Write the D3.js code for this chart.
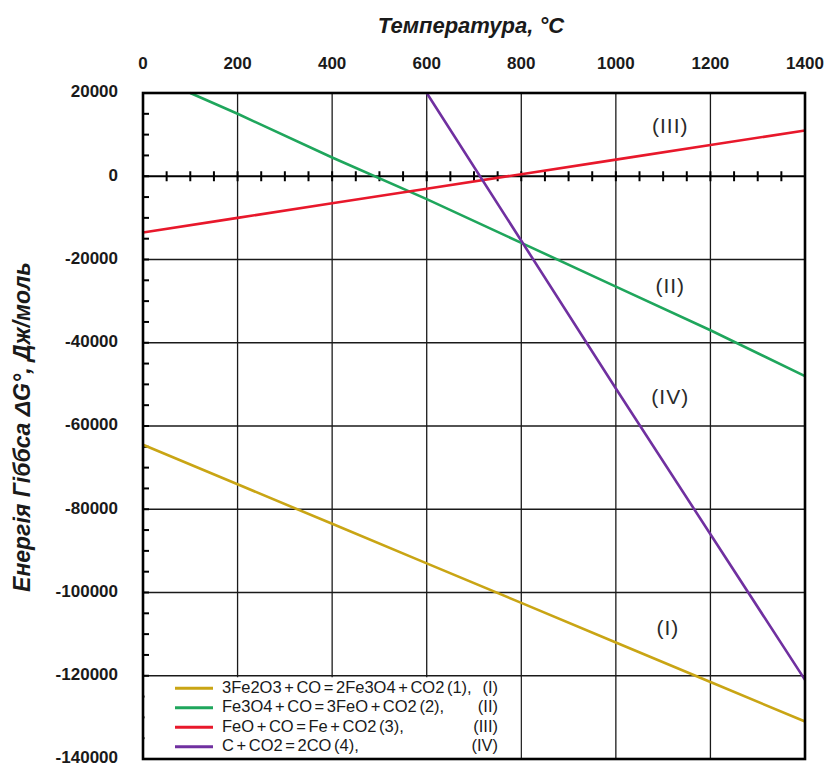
<!DOCTYPE html>
<meta charset="utf-8">
<script src="https://d3js.org/d3.v7.min.js"></script>
<style>
  body { margin: 0; background: #fff; }
</style>
<div id="chart"></div>
<script>
  // data
  var temps = [0, 200, 400, 600, 800, 1000, 1200, 1400];
  var tempsII = [100, 200, 400, 600, 800, 1000, 1200, 1400];
  var tempsIV = [600, 800, 1000, 1200, 1400];
  var valuesI = [-64500, -74000, -83500, -93000, -102500, -112000, -121500, -131000];
  var valuesII = [20000, 15000, 4500, -5500, -16000, -26500, -37000, -48000];
  var valuesIII = [-13500, -10000, -6500, -3000, 500, 4000, 7500, 11000];
  var valuesIV = [20000, -15500, -51000, -86000, -121000];
  var xTicks = [0, 200, 400, 600, 800, 1000, 1200, 1400];
  var yTicks = [20000, 0, -20000, -40000, -60000, -80000, -100000, -120000, -140000];
  var legendNames = ["3Fe2O3 + CO = 2Fe3O4 + CO2 (1),", "Fe3O4 + CO = 3FeO + CO2 (2),", "FeO + CO = Fe + CO2 (3),", "C + CO2 = 2CO (4),"];
  var romans = ["(I)", "(II)", "(III)", "(IV)"];
  var colors = ["#c9a514", "#1fa65c", "#e8182b", "#7030a0"];

  var series = [
    {t: temps, v: valuesI},
    {t: tempsII, v: valuesII},
    {t: temps, v: valuesIII},
    {t: tempsIV, v: valuesIV}
  ];
  // in-plot labels: [temperature, value]
  var labelPos = [[1110, -108900], [1115, -26700], [1115, 11800], [1115, -53300]];

  var margin = {top: 93, right: 28, bottom: 8, left: 143},
      width = 833 - margin.left - margin.right,
      height = 767 - margin.top - margin.bottom;

  var svg = d3.select("#chart").append("svg")
      .attr("width", 833).attr("height", 767)
      .append("g")
      .attr("transform", "translate(" + margin.left + "," + margin.top + ")");

  var x = d3.scaleLinear().domain([0, 1400]).range([0, width]);
  var y = d3.scaleLinear().domain([-140000, 20000]).range([height, 0]);

  // grid
  svg.append("g").selectAll("line").data(xTicks.slice(1, -1)).enter().append("line")
    .attr("x1", d => x(d)).attr("x2", d => x(d))
    .attr("y1", 0).attr("y2", height)
    .attr("stroke", "#1a1a1a").attr("stroke-width", 1.3);
  svg.append("g").selectAll("line").data(yTicks.filter(d => d < 0 && d > -140000)).enter().append("line")
    .attr("x1", 0).attr("x2", width)
    .attr("y1", d => y(d)).attr("y2", d => y(d))
    .attr("stroke", "#1a1a1a").attr("stroke-width", 1.3);

  // minor ticks on left axis
  svg.append("g").selectAll("line").data(d3.range(-140000, 20001, 5000)).enter().append("line")
    .attr("x1", 0).attr("x2", 6)
    .attr("y1", d => y(d)).attr("y2", d => y(d))
    .attr("stroke", "#000").attr("stroke-width", 2);

  // zero line with ticks
  svg.append("line")
    .attr("x1", 0).attr("x2", width)
    .attr("y1", y(0)).attr("y2", y(0))
    .attr("stroke", "#000").attr("stroke-width", 2.2);
  svg.append("g").selectAll("line").data(d3.range(50, 1400, 50)).enter().append("line")
    .attr("x1", d => x(d)).attr("x2", d => x(d))
    .attr("y1", y(0) - 5).attr("y2", y(0) + 5)
    .attr("stroke", "#000").attr("stroke-width", 2);

  // lines
  var line = d3.line().x(d => x(d[0])).y(d => y(d[1]));
  series.forEach(function(s, i) {
    svg.append("path")
      .datum(s.t.map((t, j) => [t, s.v[j]]))
      .attr("d", line)
      .attr("fill", "none")
      .attr("stroke", colors[i])
      .attr("stroke-width", 2.6);
  });

  // in-plot labels
  svg.append("g").selectAll("text").data(romans).enter().append("text")
    .attr("x", (d, i) => x(labelPos[i][0]))
    .attr("y", (d, i) => y(labelPos[i][1]))
    .attr("text-anchor", "middle")
    .attr("dominant-baseline", "middle")
    .style("font-family", "Liberation Sans, Arial, sans-serif")
    .style("font-size", "21px")
    .style("letter-spacing", "1px")
    .style("fill", "#2a2a2a")
    .text(d => d);

  // legend
  var lg = svg.append("g");
  lg.append("rect")
    .attr("x", 1.5).attr("y", y(-120000) + 1.5)
    .attr("width", x(800) - 2.5).attr("height", height - y(-120000) - 2.5)
    .attr("fill", "#fff");
  legendNames.forEach(function(name, i) {
    var ly = y(-120000) + 12.5 + i * 19.5;
    lg.append("line")
      .attr("x1", 32).attr("x2", 70)
      .attr("y1", ly).attr("y2", ly)
      .attr("stroke", colors[i]).attr("stroke-width", 3);
    lg.append("text")
      .attr("x", 79).attr("y", ly)
      .attr("dominant-baseline", "middle")
      .style("font-family", "Liberation Sans, Arial, sans-serif")
      .style("font-size", "16.5px")
      .style("word-spacing", "-2px")
      .style("fill", "#1a1a1a")
      .text(name);
    lg.append("text")
      .attr("x", 355).attr("y", ly)
      .attr("text-anchor", "end")
      .attr("dominant-baseline", "middle")
      .style("font-family", "Liberation Sans, Arial, sans-serif")
      .style("font-size", "16.5px")
      .style("fill", "#1a1a1a")
      .text(romans[i]);
  });

  // frame
  svg.append("rect")
    .attr("x", 0).attr("y", 0).attr("width", width).attr("height", height)
    .attr("fill", "none").attr("stroke", "#000").attr("stroke-width", 2.6);

  // tick labels
  svg.append("g").selectAll("text").data(xTicks).enter().append("text")
    .attr("x", d => x(d)).attr("y", -24)
    .attr("text-anchor", "middle")
    .style("font-family", "Liberation Sans, Arial, sans-serif")
    .style("font-weight", "bold")
    .style("font-size", "17px")
    .style("fill", "#1a1a1a")
    .text(d => d);
  svg.append("g").selectAll("text").data(yTicks).enter().append("text")
    .attr("x", -25).attr("y", d => y(d))
    .attr("text-anchor", "end")
    .attr("dominant-baseline", "middle")
    .style("font-family", "Liberation Sans, Arial, sans-serif")
    .style("font-weight", "bold")
    .style("font-size", "17px")
    .style("fill", "#1a1a1a")
    .text(d => d);

  // axis titles
  svg.append("text")
    .attr("x", 328).attr("y", -60)
    .attr("text-anchor", "middle")
    .style("font-family", "Liberation Sans, Arial, sans-serif")
    .style("font-weight", "bold")
    .style("font-style", "italic")
    .style("font-size", "22px")
    .style("fill", "#1a1a1a")
    .text("Температура, °C");
  svg.append("text")
    .attr("transform", "translate(-113," + (427 - margin.top) + ") rotate(-90)")
    .attr("text-anchor", "middle")
    .style("font-family", "Liberation Sans, Arial, sans-serif")
    .style("font-weight", "bold")
    .style("font-style", "italic")
    .style("font-size", "23px")
    .style("fill", "#1a1a1a")
    .text("Енергія Гіббса ΔG°, Дж/моль");
</script>
